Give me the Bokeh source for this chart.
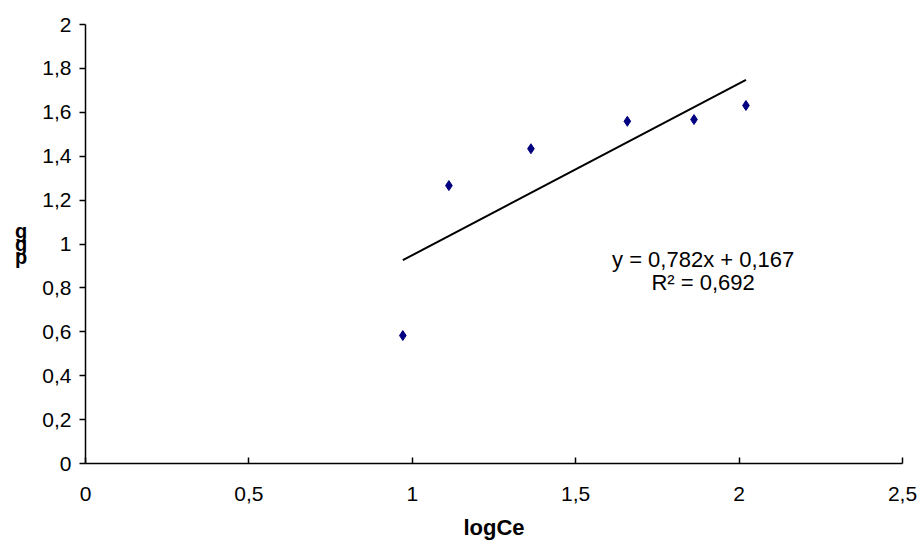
from bokeh.plotting import figure
from bokeh.models import ColumnDataSource, FixedTicker, Label, Range1d
from bokeh.embed import file_html
from bokeh.resources import INLINE

# Data
log_ce = [0.971, 1.112, 1.363, 1.658, 1.862, 2.021]
log_qe = [0.583, 1.266, 1.434, 1.559, 1.567, 1.631]
slope = 0.782
intercept = 0.167
r2 = 0.692

x_ticks = [0, 0.5, 1, 1.5, 2, 2.5]
x_tick_labels = ["0", "0,5", "1", "1,5", "2", "2,5"]
y_ticks = [0, 0.2, 0.4, 0.6, 0.8, 1, 1.2, 1.4, 1.6, 1.8, 2]
y_tick_labels = ["0", "0,2", "0,4", "0,6", "0,8", "1", "1,2", "1,4", "1,6", "1,8", "2"]

FONT = "Liberation Sans"

p = figure(width=922, height=551, output_backend="svg", toolbar_location=None,
           x_range=Range1d(0, 2.5), y_range=Range1d(0, 2),
           min_border_left=85, min_border_right=20, min_border_top=24, min_border_bottom=88)
p.outline_line_color = None
p.xgrid.visible = False
p.ygrid.visible = False
p.background_fill_color = "white"
p.border_fill_color = "white"

# axes
p.xaxis.ticker = FixedTicker(ticks=x_ticks)
p.xaxis.major_label_overrides = {t: l for t, l in zip(x_ticks, x_tick_labels)}
p.yaxis.ticker = FixedTicker(ticks=y_ticks)
p.yaxis.major_label_overrides = {t: l for t, l in zip(y_ticks, y_tick_labels)}
for ax in (p.xaxis[0], p.yaxis[0]):
    ax.axis_line_color = "black"
    ax.axis_line_width = 1.5
    ax.major_tick_line_color = "black"
    ax.major_tick_line_width = 1.5
    ax.minor_tick_line_color = None
    ax.major_label_text_font = FONT
    ax.major_label_text_font_size = "21px"
    ax.major_label_text_color = "black"
    ax.axis_label_text_color = "black"
    ax.axis_label_text_font = FONT
    ax.axis_label_text_font_style = "bold"
p.xaxis.major_tick_in = 6
p.xaxis.major_tick_out = 0
p.xaxis.major_label_standoff = 23
p.yaxis.major_tick_in = 0
p.yaxis.major_tick_out = 6
p.yaxis.major_label_standoff = 8

p.xaxis.axis_label = "logCe"
p.xaxis.axis_label_text_font_size = "22px"
p.xaxis.axis_label_standoff = 11

# stacked (garbled) y-axis title as in the reference
p.yaxis.axis_label = "g\ng\np"
p.yaxis.axis_label_orientation = "horizontal"
p.yaxis.axis_label_text_font_size = "20px"
p.yaxis.axis_label_text_line_height = 0.6
p.yaxis.axis_label_standoff = 12

# regression line
x_fit = [min(log_ce), max(log_ce)]
y_fit = [slope * x + intercept for x in x_fit]
p.line(x_fit, y_fit, line_color="black", line_width=2)

# data points
src = ColumnDataSource(dict(x=log_ce, y=log_qe))
p.scatter("x", "y", source=src, marker="diamond", size=10, fill_color="#000080",
          line_color="#000080")

# equation
eq1 = "y = " + f"{slope:.3f}".replace(".", ",") + "x + " + f"{intercept:.3f}".replace(".", ",")
eq2 = "R² = " + f"{r2:.3f}".replace(".", ",")
p.add_layout(Label(x=1.89, y=0.93, text=eq1, text_align="center", text_baseline="middle",
                   text_font=FONT, text_font_size="22px", text_color="black"))
p.add_layout(Label(x=1.89, y=0.825, text=eq2, text_align="center", text_baseline="middle",
                   text_font=FONT, text_font_size="22px", text_color="black"))

open("out.html", "w").write(file_html(p, INLINE))
